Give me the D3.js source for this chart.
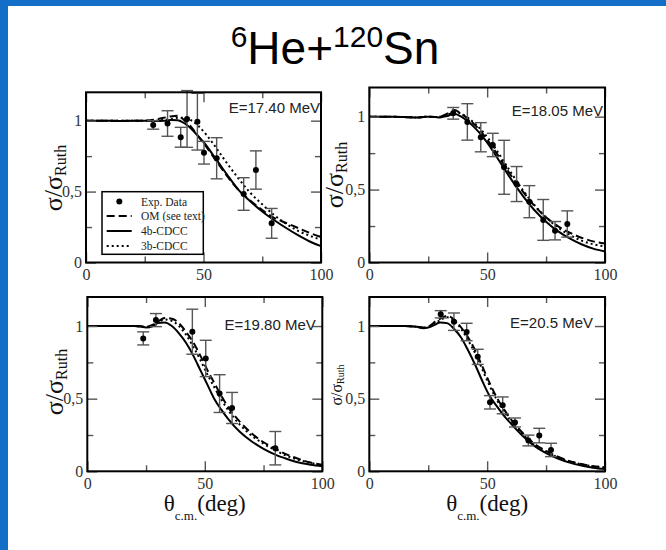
<!DOCTYPE html>
<html><head><meta charset="utf-8">
<script src="https://cdn.jsdelivr.net/npm/d3@7"></script>
<style>html,body{margin:0;padding:0;background:#fff;}svg{display:block;}</style>
</head><body>
<script>
// ---------- DATA ----------
const angles = [0,5,10,15,20,23,25,28,30,33,36,39,42,45,48,51,54,57,60,65,70,75,80,85,90,95,100];

// E = 17.40 MeV
const e1740_4b = [1.0,1.0,1.0,0.997,1.0,1.0,1.0,0.998,0.998,1.0,1.004,1.003,0.98,0.94,0.885,0.83,0.76,0.69,0.62,0.51,0.43,0.36,0.30,0.245,0.195,0.15,0.115];
const e1740_om = [1.0,1.0,1.0,1.0,1.0,1.0,1.0,1.005,1.01,1.02,1.03,1.035,1.0,0.95,0.885,0.82,0.75,0.68,0.61,0.51,0.435,0.37,0.315,0.28,0.245,0.21,0.18];
const e1740_3b = [1.0,1.0,1.0,1.0,1.0,1.0,1.0,1.0,1.0,1.005,1.01,1.02,1.02,1.0,0.96,0.905,0.84,0.77,0.70,0.59,0.49,0.41,0.335,0.275,0.225,0.19,0.16];
const e1740_expAngle = [28.6,34.7,40.3,43,47.4,50.2,55.6,67.1,72.3,79];
const e1740_expValue = [0.97,0.98,0.883,1.012,0.993,0.774,0.735,0.483,0.652,0.276];
const e1740_expError = [0.03,0.09,0.07,0.2,0.2,0.08,0.145,0.115,0.135,0.105];

// E = 18.05 MeV
const e1805_4b = [1.0,1.0,1.0,0.997,0.995,0.998,1.0,0.997,0.995,1.005,1.02,1.0,0.965,0.92,0.865,0.80,0.725,0.65,0.575,0.46,0.36,0.28,0.215,0.165,0.125,0.095,0.075];
const e1805_om = [1.0,1.0,1.0,0.997,0.995,0.998,1.0,0.998,1.0,1.02,1.045,1.02,0.985,0.94,0.885,0.82,0.75,0.675,0.60,0.49,0.39,0.31,0.25,0.205,0.17,0.145,0.13];
const e1805_3b = [1.0,1.0,1.0,0.997,0.995,0.998,1.0,0.998,1.0,1.01,1.03,1.02,0.99,0.95,0.90,0.84,0.77,0.695,0.62,0.50,0.395,0.31,0.24,0.19,0.15,0.125,0.11];
const e1805_expAngle = [35.6,41.6,47.3,52.4,57.2,62.5,67.9,73.8,78.8,84];
const e1805_expValue = [1.023,0.964,0.859,0.806,0.653,0.538,0.417,0.292,0.218,0.264];
const e1805_expError = [0.04,0.125,0.1,0.08,0.185,0.12,0.11,0.14,0.063,0.09];

// E = 19.80 MeV
const e1980_4b = [1.0,1.0,1.0,1.0,1.0,0.995,0.99,1.0,1.02,1.025,1.0,0.95,0.885,0.80,0.70,0.60,0.50,0.425,0.36,0.27,0.205,0.155,0.115,0.085,0.06,0.045,0.035];
const e1980_om = [1.0,1.0,1.0,1.0,1.0,0.998,0.995,1.01,1.03,1.055,1.05,1.02,0.96,0.89,0.80,0.70,0.61,0.52,0.44,0.34,0.26,0.20,0.155,0.115,0.085,0.06,0.045];
const e1980_3b = [1.0,1.0,1.0,1.0,1.0,0.997,0.993,1.005,1.025,1.045,1.035,1.0,0.94,0.86,0.77,0.67,0.58,0.495,0.42,0.32,0.245,0.19,0.145,0.105,0.078,0.058,0.042];
const e1980_expAngle = [23.8,29.2,44.7,50.4,56.3,61.6,80];
const e1980_expValue = [0.915,1.041,0.961,0.777,0.535,0.436,0.159];
const e1980_expError = [0.045,0.045,0.155,0.125,0.13,0.107,0.115];

// E = 20.5 MeV
const e2050_4b = [1.0,1.0,1.0,1.0,0.995,0.985,0.99,1.01,1.025,1.02,0.98,0.92,0.83,0.73,0.62,0.52,0.45,0.385,0.33,0.245,0.175,0.125,0.088,0.06,0.04,0.025,0.015];
const e2050_om = [1.0,1.0,1.0,1.0,0.995,0.99,0.995,1.03,1.05,1.07,1.045,0.99,0.92,0.83,0.72,0.61,0.51,0.43,0.36,0.265,0.19,0.14,0.10,0.07,0.05,0.035,0.028];
const e2050_3b = [1.0,1.0,1.0,1.0,0.995,0.988,0.993,1.02,1.04,1.06,1.04,0.98,0.90,0.81,0.70,0.59,0.495,0.415,0.35,0.255,0.185,0.135,0.097,0.068,0.048,0.034,0.026];
const e2050_expAngle = [30.3,35.9,41.3,46,51.2,56.6,61.8,67.5,72.1,77.1];
const e2050_expValue = [1.081,1.03,0.959,0.788,0.475,0.454,0.336,0.212,0.246,0.147];
const e2050_expError = [0.025,0.06,0.06,0.052,0.046,0.058,0.031,0.037,0.05,0.046];

const energyLabels = ["E=17.40 MeV","E=18.05 MeV","E=19.80 MeV","E=20.5 MeV"];
const xTickValues = [0,50,100];
const xTickLabels = ["0","50","100"];
const xMinorTicks = [25,75];
const yTickValues = [0,0.5,1];
const yTickLabels = ["0","0,5","1"];
const yMinorTicks = [0.25,0.75];
const legendLabels = ["Exp. Data","OM (see text)","4b-CDCC","3b-CDCC"];

// ---------- LAYOUT ----------
const W = 666, H = 550;
const serif = "'Liberation Serif','Times New Roman',serif";
const sans = "'Liberation Sans',Arial,sans-serif";

const panels = [
  {four:e1740_4b, om:e1740_om, three:e1740_3b, ea:e1740_expAngle, ev:e1740_expValue, ee:e1740_expError,
   label:energyLabels[0], left:86, right:321, top:92.3, bottom:262.5, lblDx:-1, lblY:113,
   ylab:{x:62, cy:178, fs:26, sfs:16}, xlab:null, legend:true},
  {four:e1805_4b, om:e1805_om, three:e1805_3b, ea:e1805_expAngle, ev:e1805_expValue, ee:e1805_expError,
   label:energyLabels[1], left:369.3, right:605, top:87.5, bottom:262.5, lblDx:-2, lblY:116,
   ylab:{x:343, cy:175, fs:26, sfs:16}, xlab:null, legend:false},
  {four:e1980_4b, om:e1980_om, three:e1980_3b, ea:e1980_expAngle, ev:e1980_expValue, ee:e1980_expError,
   label:energyLabels[2], left:87.3, right:322.3, top:297, bottom:471.3, lblDx:-6.5, lblY:330,
   ylab:{x:63, cy:382, fs:26, sfs:16}, xlab:{y:511}, legend:false},
  {four:e2050_4b, om:e2050_om, three:e2050_3b, ea:e2050_expAngle, ev:e2050_expValue, ee:e2050_expError,
   label:energyLabels[3], left:369.3, right:605, top:297, bottom:471.3, lblDx:-12, lblY:328,
   ylab:{x:342, cy:385, fs:16, sfs:10}, xlab:{y:511}, legend:false}
];

const svg = d3.select("body").append("svg").attr("width",W).attr("height",H);
svg.append("rect").attr("width",W).attr("height",H).attr("fill","#fff");
svg.append("rect").attr("x",0).attr("y",0).attr("width",W).attr("height",6).attr("fill","#126ec6");
svg.append("rect").attr("x",0).attr("y",0).attr("width",8).attr("height",H).attr("fill","#126ec6");

// Title
const title = svg.append("text").attr("x",335).attr("y",64).attr("text-anchor","middle")
  .attr("font-family",sans).attr("font-size",46).attr("fill","#000");
title.append("tspan").attr("font-size",30).attr("dy",-17).text("6");
title.append("tspan").attr("dy",17).text("He+");
title.append("tspan").attr("font-size",30).attr("dy",-17).text("120");
title.append("tspan").attr("dy",17).text("Sn");

const styles = {
  four:{dash:null},
  om:{dash:"8,4"},
  three:{dash:"2,3"}
};

panels.forEach(p => {
  const g = svg.append("g");
  const x = d3.scaleLinear().domain([0,100]).range([p.left,p.right]);
  const y = d3.scaleLinear().domain([0,1.2]).range([p.bottom,p.top]);

  // curves
  const line = d3.line().x((d,i)=>x(angles[i])).y(d=>y(d)).curve(d3.curveMonotoneX);
  ["om","three","four"].forEach(k => {
    g.append("path").attr("d",line(p[k])).attr("fill","none").attr("stroke","#000")
      .attr("stroke-width",2).attr("stroke-dasharray",styles[k].dash);
  });

  // error bars and points
  const pts = p.ea.map((a,i)=>({a, v:p.ev[i], e:p.ee[i]}));
  const eb = g.append("g").attr("stroke","#555").attr("stroke-width",1.4).attr("fill","none");
  pts.forEach(d => {
    eb.append("line").attr("x1",x(d.a)).attr("x2",x(d.a)).attr("y1",y(d.v-d.e)).attr("y2",y(d.v+d.e));
    [d.v-d.e, d.v+d.e].forEach(v => {
      eb.append("line").attr("x1",x(d.a)-6).attr("x2",x(d.a)+6).attr("y1",y(v)).attr("y2",y(v));
    });
  });
  g.append("g").selectAll("circle").data(pts).join("circle")
    .attr("cx",d=>x(d.a)).attr("cy",d=>y(d.v)).attr("r",3).attr("fill","#000");

  // axes (inward ticks)
  const mk = (axis, tr) => {
    const a = g.append("g").attr("transform",tr).call(axis);
    a.select(".domain").remove();
    a.selectAll("line").attr("stroke","#555").attr("stroke-width",1.4);
    a.selectAll("text").attr("font-family",serif).attr("font-size",16).attr("fill","#333");
    return a;
  };
  mk(d3.axisBottom(x).tickValues(xTickValues).tickFormat((d,i)=>xTickLabels[i]).tickSize(-10).tickPadding(6), `translate(0,${p.bottom})`);
  mk(d3.axisBottom(x).tickValues(xMinorTicks).tickFormat("").tickSize(-6), `translate(0,${p.bottom})`);
  mk(d3.axisTop(x).tickValues(xTickValues).tickFormat("").tickSize(-10), `translate(0,${p.top})`);
  mk(d3.axisTop(x).tickValues(xMinorTicks).tickFormat("").tickSize(-6), `translate(0,${p.top})`);
  mk(d3.axisLeft(y).tickValues(yTickValues).tickFormat((d,i)=>yTickLabels[i]).tickSize(-10).tickPadding(4), `translate(${p.left},0)`);
  mk(d3.axisLeft(y).tickValues(yMinorTicks).tickFormat("").tickSize(-6), `translate(${p.left},0)`);
  mk(d3.axisRight(y).tickValues(yTickValues).tickFormat("").tickSize(-10), `translate(${p.right},0)`);
  mk(d3.axisRight(y).tickValues(yMinorTicks).tickFormat("").tickSize(-6), `translate(${p.right},0)`);

  // frame
  g.append("rect").attr("x",p.left).attr("y",p.top).attr("width",p.right-p.left).attr("height",p.bottom-p.top)
    .attr("fill","none").attr("stroke","#000").attr("stroke-width",2);

  // energy label
  g.append("text").attr("x",p.right+p.lblDx).attr("y",p.lblY).attr("text-anchor","end")
    .attr("font-family",sans).attr("font-size",15).attr("fill","#222").text(p.label);

  // y label
  const yl = g.append("text").attr("transform",`translate(${p.ylab.x},${p.ylab.cy}) rotate(-90)`)
    .attr("text-anchor","middle").attr("font-family",serif).attr("font-size",p.ylab.fs).attr("fill","#111");
  yl.append("tspan").text("σ/σ");
  yl.append("tspan").attr("font-size",p.ylab.sfs).attr("dy",p.ylab.fs*0.15).text("Ruth");

  // x label
  if (p.xlab) {
    const xl = g.append("text").attr("x",(p.left+p.right)/2).attr("y",p.xlab.y).attr("text-anchor","middle")
      .attr("font-family",serif).attr("font-size",23).attr("fill","#111");
    xl.append("tspan").text("θ");
    xl.append("tspan").attr("font-size",13).attr("dy",9).text("c.m.");
    xl.append("tspan").attr("dy",-9).text("(deg)");
  }

  // legend
  if (p.legend) {
    const lg = g.append("g");
    lg.append("rect").attr("x",102).attr("y",191.7).attr("width",101.3).attr("height",62.6)
      .attr("fill","#fff").attr("stroke","#000").attr("stroke-width",1.5);
    const rowsY = [201.5,216,231,246];
    lg.append("circle").attr("cx",119.3).attr("cy",rowsY[0]).attr("r",3).attr("fill","#000");
    [["om",1],["four",2],["three",3]].forEach(([k,r]) => {
      lg.append("line").attr("x1",106.7).attr("x2",131.7).attr("y1",rowsY[r]).attr("y2",rowsY[r])
        .attr("stroke","#000").attr("stroke-width",2).attr("stroke-dasharray",styles[k].dash);
    });
    legendLabels.forEach((t,i) => {
      lg.append("text").attr("x",141).attr("y",rowsY[i]+4).attr("font-family",serif)
        .attr("font-size",11.5).attr("fill","#222").text(t);
    });
  }
});
</script>
</body></html>
